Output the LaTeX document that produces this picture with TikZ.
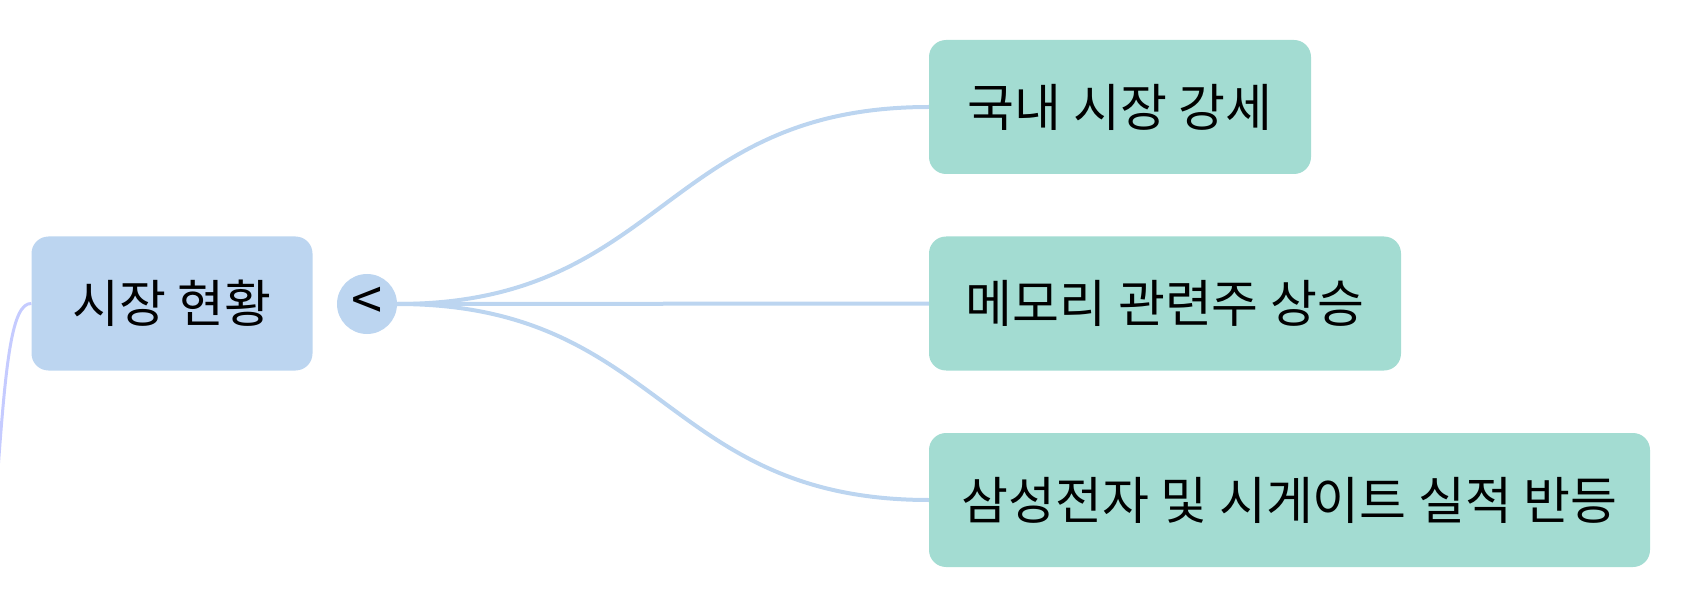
\documentclass[tikz,border=0pt]{standalone}
\usepackage{fontspec}
\setmainfont{Noto Sans CJK KR}
\usepackage{tikz}

\definecolor{rootblue}{HTML}{BCD5F0}
\definecolor{leafgreen}{HTML}{A3DCD2}
\definecolor{linkblue}{HTML}{BCD5F0}
\definecolor{linklav}{HTML}{C5CBFF}

\begin{document}
\begin{tikzpicture}[x=1pt,y=-1pt,
	topic/.style={shape=rectangle,rounded corners=17pt,fill=#1,minimum height=134pt,
		inner sep=0pt,font=\fontsize{51}{60}\selectfont},
	link/.style={draw=linkblue,line width=4pt}]

	\useasboundingbox (0,0) rectangle (1682,604);

	\node[topic=rootblue,minimum width=281pt] (root) at (172, 303.5)   {시장 현황};
	\node[shape=circle,fill=rootblue,minimum size=60pt,inner sep=0pt,
		font=\fontsize{56}{60}\selectfont] (fold) at (367, 304)   {<};
	\node[topic=leafgreen,minimum width=382pt] (dom) at (1120, 107)   {국내 시장 강세};
	\node[topic=leafgreen,minimum width=472pt] (mem) at (1165, 303.5)   {메모리 관련주 상승};
	\node[topic=leafgreen,minimum width=721pt] (sam) at (1289.5, 500)   {삼성전자 및 시게이트 실적 반등};

	\coordinate (up) at (-2, 470);

	\path[draw=linklav,line width=3pt] (root.west) .. controls (12, 303) and (6, 360) .. (up);

	\path[link] (fold.east) .. controls +(266,0) and +(-266,0) .. (dom.west);
	\path[link] (fold.east) -- (mem.west);
	\path[link] (fold.east) .. controls +(266,0) and +(-266,0) .. (sam.west);

\end{tikzpicture}
\end{document}
